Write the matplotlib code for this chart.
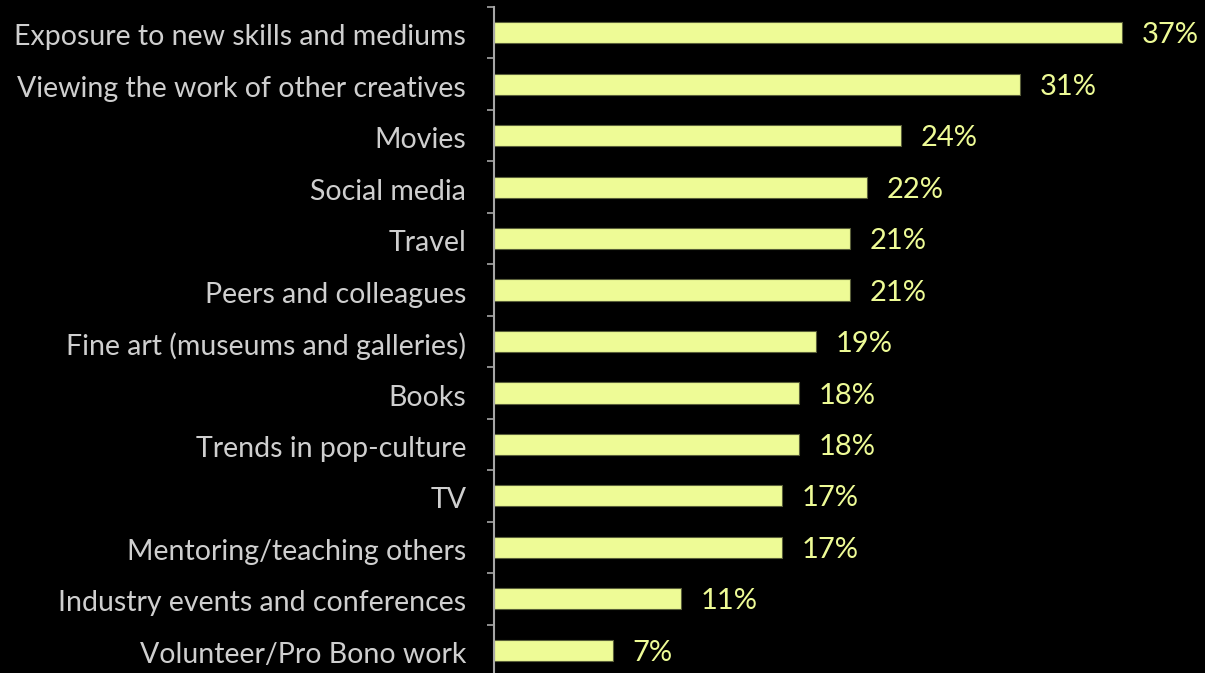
import numpy as np
import matplotlib.pyplot as plt

# sources of creative inspiration, share of respondents (%)
categories = [
    'Exposure to new skills and mediums',
    'Viewing the work of other creatives',
    'Movies',
    'Social media',
    'Travel',
    'Peers and colleagues',
    'Fine art (museums and galleries)',
    'Books',
    'Trends in pop-culture',
    'TV',
    'Mentoring/teaching others',
    'Industry events and conferences',
    'Volunteer/Pro Bono work',
]
values = [37, 31, 24, 22, 21, 21, 19, 18, 18, 17, 17, 11, 7]

bar_color = '#EEFB96'
bg = '#000000'

fig = plt.figure(figsize=(12.05, 6.73), dpi=100, facecolor=bg)
ax = fig.add_axes([494 / 1205, -3 / 673, 1 - 494 / 1205, 1 - 4 / 673])
ax.set_facecolor(bg)

y = np.arange(len(categories))
ax.barh(y, values, height=0.41, color=bar_color, edgecolor='#5a5f3a', linewidth=0.8)
ax.set_ylim(len(categories) - 0.5, -0.5)
ax.set_xlim(0, 41.9)

# value labels
for yi, v in zip(y, values):
    ax.text(v + 1.15, yi + 0.05, f'{v}%', va='center', ha='left',
            fontsize=21, color=bar_color, family='Lato')

# category labels, with boundary ticks on the spine
ax.set_yticks(y + 0.04)
ax.set_yticklabels(categories, fontsize=20.5, color='#CFCFCF', family='Lato')
ax.tick_params(axis='y', which='major', length=0, pad=20)
ax.set_yticks(np.arange(len(categories) + 1) - 0.5, minor=True)
ax.tick_params(axis='y', which='minor', length=5, width=1.2, color='#A6A6A6')
ax.set_xticks([])

for s in ['top', 'right', 'bottom']:
    ax.spines[s].set_visible(False)
ax.spines['left'].set_color('#A6A6A6')
ax.spines['left'].set_linewidth(1.5)

fig.savefig('out.png', dpi=100, facecolor=bg)
